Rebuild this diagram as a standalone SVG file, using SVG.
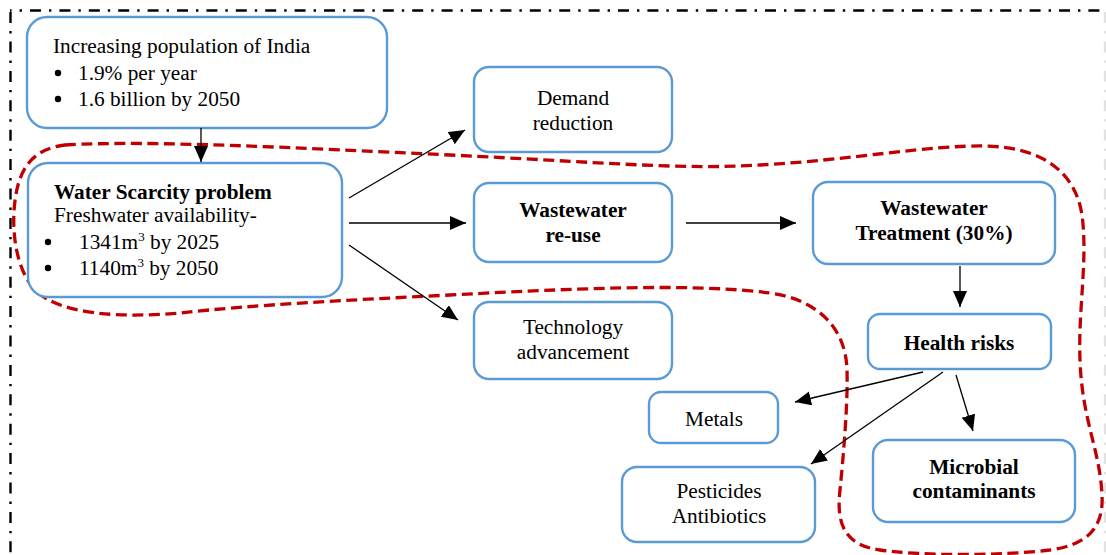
<svg xmlns="http://www.w3.org/2000/svg" width="1106" height="555" viewBox="0 0 1106 555">
<defs>
<style>
.box{fill:#fff;stroke:#5B9BD5;stroke-width:2.4}
.t{font-size:21.3px;fill:#000}
.b{font-weight:bold}
.c{text-anchor:middle}
.edge{stroke:#000;stroke-width:1.3;fill:none;marker-end:url(#ah)}
.frame{stroke:#000;stroke-width:2.4;fill:none;stroke-dasharray:11 8 2.4 8}
</style>
<marker id="ah" markerUnits="userSpaceOnUse" markerWidth="17" markerHeight="15" refX="16" refY="7" orient="auto">
<path d="M0,0 L16,7 L0,14 z" fill="#000"/>
</marker>
</defs>
<rect width="1106" height="555" fill="#fff"/>
<g id="frame">
<path class="frame" d="M10,10.5 H1106" stroke-dashoffset="9.4"/>
<path class="frame" d="M10.5,10 V555" stroke-dashoffset="27.3"/>
<path class="frame" d="M1105,12 V555" style="stroke:#e2e2e2"/>
</g>
<g id="region">
<path d="M65,145 C150,140 300,148 450,155 C600,162 680,170 760,165 C850,160 930,145 985,146 C1040,147 1075,170 1082,215 C1088,260 1078,310 1080,360 C1082,420 1100,450 1102,495 C1104,530 1085,545 1050,550 C1000,556 920,556 880,550 C845,545 836,525 840,490 C844,450 848,400 847,370 C846,330 820,300 770,293 C700,284 600,287 450,295 C350,300 250,305 180,313 C120,318 60,315 35,290 C12,265 10,215 18,185 C25,160 40,148 65,145 Z" fill="none" stroke="#C00000" stroke-width="3.3" stroke-dasharray="11 5.5"/>
</g>
<g font-family="'Liberation Serif', 'Times New Roman', Times, serif">
<g id="n-population">
<rect class="box" x="27" y="17" width="360" height="111" rx="20"/>
<text class="t" x="53" y="53">Increasing population of India</text>
<circle cx="58" cy="73" r="3.2"/><text class="t" x="78" y="80">1.9% per year</text>
<circle cx="58" cy="99" r="3.2"/><text class="t" x="78" y="106">1.6 billion by 2050</text>
</g>
<g id="n-scarcity">
<rect class="box" x="28" y="163" width="314" height="134" rx="20"/>
<text class="t b" x="54" y="199">Water Scarcity problem</text>
<text class="t" x="54" y="222">Freshwater availability-</text>
<circle cx="48" cy="242" r="3.2"/><text class="t" x="79" y="249">1341m<tspan font-size="13" dy="-8">3</tspan><tspan dy="8"> by 2025</tspan></text>
<circle cx="48" cy="268" r="3.2"/><text class="t" x="79" y="275">1140m<tspan font-size="13" dy="-8">3</tspan><tspan dy="8"> by 2050</tspan></text>
</g>
<g id="n-demand">
<rect class="box" x="474" y="67" width="198" height="85" rx="15"/>
<text class="t c" x="573" y="105">Demand</text>
<text class="t c" x="573" y="130">reduction</text>
</g>
<g id="n-reuse">
<rect class="box" x="474" y="183" width="198" height="79" rx="15"/>
<text class="t b c" x="573" y="217">Wastewater</text>
<text class="t b c" x="573" y="242">re-use</text>
</g>
<g id="n-tech">
<rect class="box" x="474" y="302" width="198" height="77" rx="15"/>
<text class="t c" x="573" y="334">Technology</text>
<text class="t c" x="573" y="359">advancement</text>
</g>
<g id="n-treatment">
<rect class="box" x="813" y="182" width="242" height="82" rx="15"/>
<text class="t b c" x="934" y="215">Wastewater</text>
<text class="t b c" x="934" y="240">Treatment (30%)</text>
</g>
<g id="n-health">
<rect class="box" x="868" y="314" width="183" height="55" rx="12"/>
<text class="t b c" x="959" y="350">Health risks</text>
</g>
<g id="n-metals">
<rect class="box" x="649" y="392" width="129" height="51" rx="12"/>
<text class="t c" x="714" y="426">Metals</text>
</g>
<g id="n-pesticides">
<rect class="box" x="622" y="467" width="193" height="75" rx="15"/>
<text class="t c" x="719" y="498">Pesticides</text>
<text class="t c" x="719" y="523">Antibiotics</text>
</g>
<g id="n-microbial">
<rect class="box" x="873" y="440" width="202" height="82" rx="15"/>
<text class="t b c" x="974" y="474">Microbial</text>
<text class="t b c" x="974" y="498">contaminants</text>
</g>
</g>
<g id="connectors">
<line class="edge" x1="201" y1="128" x2="201" y2="162"/>
<line class="edge" x1="349" y1="198" x2="465" y2="130"/>
<line class="edge" x1="349" y1="223" x2="466" y2="223"/>
<line class="edge" x1="349" y1="245" x2="458" y2="320"/>
<line class="edge" x1="686" y1="223" x2="796" y2="223"/>
<line class="edge" x1="960" y1="266" x2="960" y2="307"/>
<line class="edge" x1="923" y1="372" x2="795" y2="402"/>
<line class="edge" x1="943" y1="372" x2="811" y2="464"/>
<line class="edge" x1="956" y1="375" x2="973" y2="431"/>
</g>
</svg>
